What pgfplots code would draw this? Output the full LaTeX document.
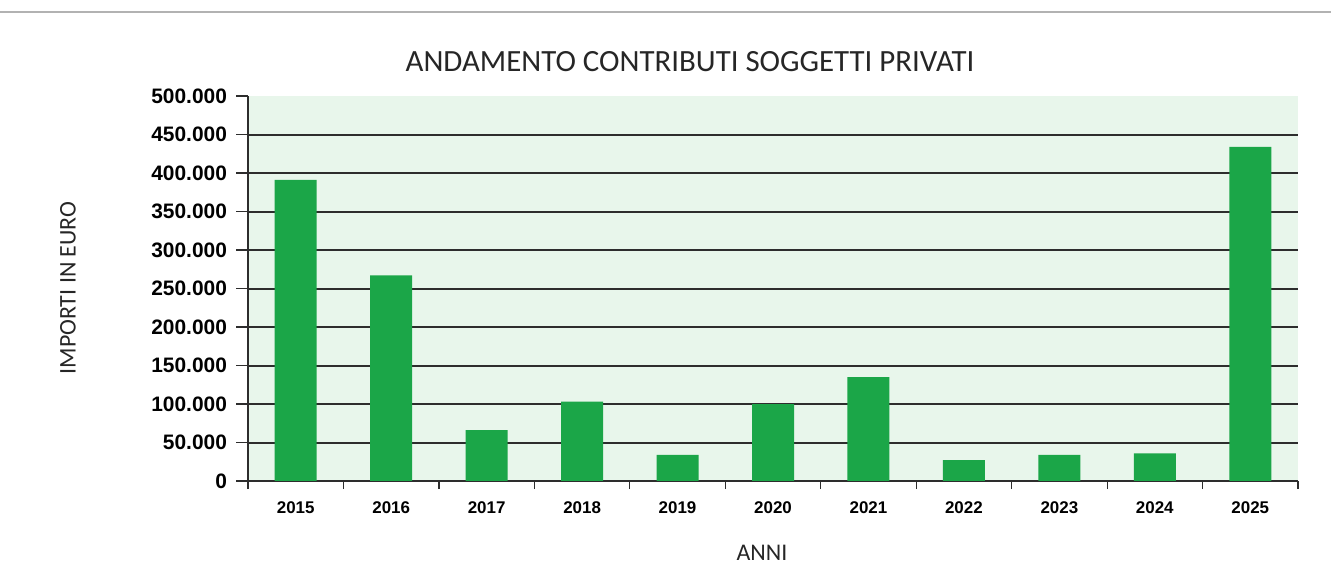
\documentclass[border=0pt]{standalone}
\usepackage{pgfplots}
\pgfplotsset{compat=1.18}
\usepackage{fontspec}
\setmainfont{Carlito}
\setsansfont{Liberation Sans}
\definecolor{bargreen}{RGB}{27,166,72}
\definecolor{bggreen}{RGB}{232,246,235}
\definecolor{gridgray}{RGB}{45,45,45}

\begin{document}
\begin{tikzpicture}
\path[use as bounding box] (0,0) rectangle (665.5bp,288.5bp);
\draw[gray!60, line width=1.2bp] (0,282.5bp) -- (665.5bp,282.5bp);
\begin{axis}[
    at={(124bp,48bp)}, anchor=south west,
    scale only axis,
    width=525bp, height=192.5bp,
    xmin=-0.5, xmax=10.5,
    ymin=0, ymax=500000,
    scaled y ticks=false,
    axis lines*=left,
    axis line style={gridgray, line width=0.6bp},
    axis background/.style={fill=bggreen},
    xtick={0,...,10},
    xticklabels={2015,2016,2017,2018,2019,2020,2021,2022,2023,2024,2025},
    major x tick style={draw=none},
    minor xtick={-0.5,0.5,...,10.5},
    minor x tick style={gridgray, line width=0.6bp},
    minor tick length=4bp,
    ytick={0,50000,100000,150000,200000,250000,300000,350000,400000,450000},
    yticklabels={0,50.000,100.000,150.000,200.000,250.000,300.000,350.000,400.000,450.000},
    extra y ticks={500000},
    extra y tick labels={500.000},
    extra y tick style={grid=none},
    ymajorgrids,
    grid style={gridgray, line width=1bp},
    tick align=outside,
    major tick length=6bp,
    y tick style={gridgray, line width=0.8bp},
    yticklabel style={font=\sffamily\bfseries\fontsize{10.5}{12}\selectfont, xshift=-1bp},
    xticklabel style={font=\sffamily\bfseries\fontsize{8.5}{10}\selectfont, yshift=-1bp},
    ybar, bar width=21bp,
]
\addplot[fill=bargreen, draw=none] coordinates {
    (0,391000) (1,267000) (2,66000) (3,103000) (4,34000) (5,100000)
    (6,135000) (7,27000) (8,34000) (9,36000) (10,434000)
};
\end{axis}
\node[font=\fontsize{15.5}{18}\selectfont, text=black!85] at (345bp,257.5bp) {ANDAMENTO CONTRIBUTI SOGGETTI PRIVATI};
\node[font=\fontsize{12}{14}\selectfont, text=black!85, rotate=90] at (34bp,144.5bp) {IMPORTI IN EURO};
\node[font=\fontsize{12}{14}\selectfont, text=black!85] at (381bp,12bp) {ANNI};
\end{tikzpicture}
\end{document}
